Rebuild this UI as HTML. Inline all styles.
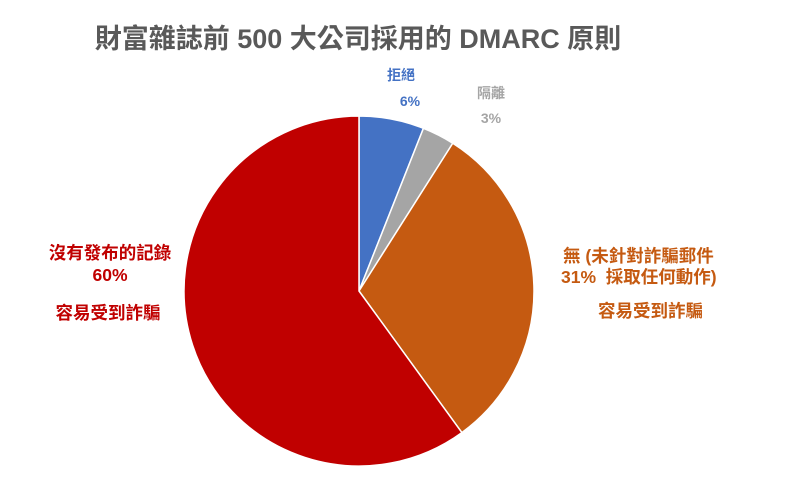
<!DOCTYPE html>
<html><head><meta charset="utf-8"><style>
body{margin:0;background:#fff;}
svg text{font-family:"Liberation Sans","Noto Sans CJK TC",sans-serif;font-weight:bold;}
</style></head><body>
<svg id="chart" width="786" height="476" viewBox="0 0 786 476">
<text x="358" y="48" text-anchor="middle" font-size="27" fill="#595959">財富雜誌前 500 大公司採用的 DMARC 原則</text>
<g id="slices"></g>
<g fill="#4472c4" font-size="14" text-anchor="middle">
<text x="401" y="80">拒絕</text><text x="410" y="106">6%</text></g>
<g fill="#a5a5a5" font-size="14" text-anchor="middle">
<text x="491" y="98">隔離</text><text x="491" y="123">3%</text></g>
<g fill="#c55a11" font-size="17.5">
<text x="563" y="262">無 (未針對詐騙郵件</text>
<text x="561" y="283">31%&#160;&#160;採取任何動作)</text>
<text x="598" y="317">容易受到詐騙</text></g>
<g fill="#c00000" font-size="17.5" text-anchor="middle">
<text x="110" y="259">沒有發布的記錄</text>
<text x="110" y="281">60%</text>
<text x="108" y="319">容易受到詐騙</text></g>
</svg>
<script>
const categories=["拒絕","隔離","無","沒有發布的記錄"];
const values=[6,3,31,60];
const colors=["#4472c4","#a5a5a5","#c55a11","#c00000"];
const names=["slice-reject","slice-quarantine","slice-none","slice-no-record"];
const cx=359,cy=291,r=175;
const g=document.getElementById('slices');
const total=values.reduce((a,b)=>a+b,0);
let a0=0;
function pt(a){return [cx+r*Math.sin(a),cy-r*Math.cos(a)];}
values.forEach((v,i)=>{
 const a1=a0+v/total*2*Math.PI;
 const p0=pt(a0),p1=pt(a1);
 const large=(a1-a0)>Math.PI?1:0;
 const p=document.createElementNS('http://www.w3.org/2000/svg','path');
 p.setAttribute('d',`M${cx},${cy}L${p0[0]},${p0[1]}A${r},${r} 0 ${large} 1 ${p1[0]},${p1[1]}Z`);
 p.setAttribute('fill',colors[i]);
 p.setAttribute('stroke','#fff');
 p.setAttribute('stroke-width','1.5');
 
 
 g.appendChild(p);
 a0=a1;
});
</script>
</body></html>
